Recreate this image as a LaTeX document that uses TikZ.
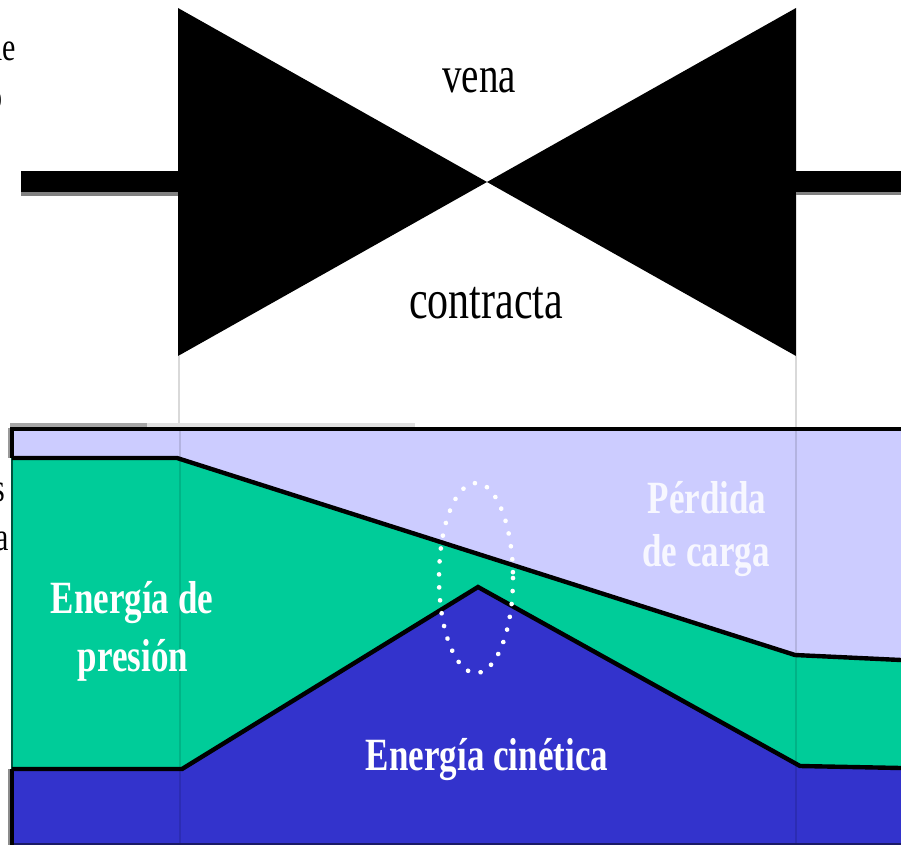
\documentclass[tikz,border=0pt]{standalone}
\usepackage{fontspec}
\setmainfont{Liberation Serif}
\definecolor{lav}{HTML}{CCCCFF}
\definecolor{grn}{HTML}{00CC99}
\definecolor{blu}{HTML}{3333CC}
\definecolor{nav}{HTML}{1A1A66}
\newcommand{\tallA}[1]{\scalebox{1}[1.32]{#1}}
\tikzset{
  lbl/.style={inner sep=0pt,font=\fontsize{39}{39}\selectfont},
  wlbl/.style={inner sep=0pt,text=white,font=\fontsize{35}{35}\selectfont\bfseries},
  cutlbl/.style={inner sep=0pt,anchor=east,font=\fontsize{30}{30}\selectfont},
  curve/.style={draw=black,line width=4.4pt,line join=miter},
  guide/.style={line width=1.5pt}
}
\begin{document}
\begin{tikzpicture}[x=1pt,y=-1pt]
\useasboundingbox (0,0) rectangle (901,845);
\fill[white] (0,0) rectangle (901,845);
% valve
\fill[black] (178,8) -- (487,182) -- (178,356) -- cycle;
\fill[black] (796,8) -- (487,182) -- (796,356) -- cycle;
\fill[black!50] (21,192) rectangle (178,196);
\fill[black] (21,171) rectangle (178,192);
\fill[black!50] (796,192) rectangle (901,195);
\fill[black] (796,171) rectangle (901,192);
\node[lbl] (vena) at (479,81) {\tallA{vena}};
\node[lbl,font=\fontsize{42}{42}\selectfont] (contracta) at (486,303) {\tallA{contracta}};
% guides above the plot
\draw[guide,black!15] (179,356) -- (179,430);
\draw[guide,black!15] (796,356) -- (796,430);
% cut-off labels at the left edge
\node[cutlbl] (c1) at (16,47) {\tallA{de}};
\node[cutlbl] (c2) at (3,100) {\tallA{o}};
\node[cutlbl] (c3) at (5,492) {\tallA{s}};
\node[cutlbl] (c4) at (9,541) {\tallA{a}};
% plot
\fill[black!35] (10,423) rectangle (147,427);
\fill[black!12] (147,423) rectangle (415,427);
\fill[lav] (12,430) -- (901,430) -- (901,662) -- (795,655) -- (177,458) -- (12,458) -- cycle;
\fill[grn] (12,458) -- (177,458) -- (795,655) -- (901,660) -- (901,768) -- (800,766) -- (478,587) -- (182,769) -- (12,769) -- cycle;
\fill[blu] (12,769) -- (182,769) -- (478,587) -- (800,766) -- (901,768) -- (901,843) -- (12,843) -- cycle;
\draw[guide,black,opacity=.12] (180,430) -- (180,843);
\draw[guide,black,opacity=.12] (796,430) -- (796,843);
\draw[line width=2.5pt,nav] (12,844) -- (901,844);
\draw[line width=2.5pt,black!40] (9,428) -- (9,458);
\draw[line width=2.5pt,black!45] (9,769) -- (9,845);
\draw[line width=2pt,black!60!grn] (12,458) -- (12,769);
\draw[line width=4pt,black] (12,458) -- (12,429) -- (901,429);
\draw[line width=4pt,black] (12,769) -- (12,845);
\draw[curve] (12,458) -- (177,458) -- (795,655) -- (901,660);
\draw[curve] (12,769) -- (182,769) -- (478,587) -- (800,766) -- (901,768);
% vena contracta marker
\draw[white,line width=4.6pt,line cap=round,dash pattern=on 0.1pt off 12.9pt] (476,578) ellipse [x radius=37,y radius=95];
% labels
\node[wlbl,text=white!85!lav] (perdida) at (707,498) {\tallA{Pérdida}};
\node[wlbl,text=white!85!lav] (decarga) at (706,556) {\tallA{de carga}};
\node[wlbl] (edp) at (132,603) {\tallA{Energía de}};
\node[wlbl] (pres) at (133,660) {\tallA{presión}};
\node[wlbl] (ecin) at (487,760) {\tallA{Energía cinética}};
\end{tikzpicture}
\end{document}
